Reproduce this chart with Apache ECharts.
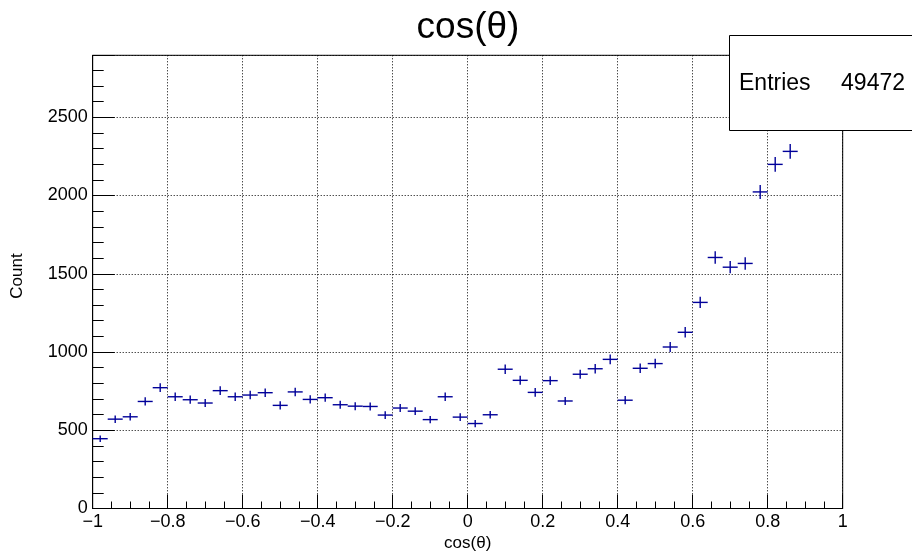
<!DOCTYPE html>
<html>
<head>
<meta charset="utf-8">
<script src="https://cdn.jsdelivr.net/npm/echarts@6/dist/echarts.min.js"></script>
<style>html,body{margin:0;padding:0;background:#fff;}#c{width:912px;height:556px;}</style>
</head>
<body>
<div id="c"></div>
<script>
// bin centres of cos(theta) histogram (50 bins, width 0.04)
var binCenters = [-0.98,-0.94,-0.90,-0.86,-0.82,-0.78,-0.74,-0.70,-0.66,-0.62,-0.58,-0.54,-0.50,-0.46,-0.42,-0.38,-0.34,-0.30,-0.26,-0.22,-0.18,-0.14,-0.10,-0.06,-0.02,0.02,0.06,0.10,0.14,0.18,0.22,0.26,0.30,0.34,0.38,0.42,0.46,0.50,0.54,0.58,0.62,0.66,0.70,0.74,0.78,0.82,0.86,0.90,0.94,0.98];
var counts = [446,571,586,684,772,714,695,674,753,714,725,740,659,745,697,708,663,654,652,597,642,622,568,714,584,543,599,890,819,742,817,687,858,893,953,692,896,926,1032,1126,1317,1604,1542,1566,2023,2199,2282,2487,2640,2760];
var binWidth = 0.04;
var xTicks = [-1,-0.8,-0.6,-0.4,-0.2,0,0.2,0.4,0.6,0.8,1];
var yTicks = [0,500,1000,1500,2000,2500];
var titleText = 'cos(\u03b8)';
var xTitle = 'cos(\u03b8)';
var yTitle = 'Count';
var entries = 49472;

var FONT = '"Liberation Sans", Arial, Helvetica, sans-serif';
var data = binCenters.map(function(x,i){return [x, counts[i], Math.sqrt(counts[i])];});

function fmt(v){
  var s = (Math.round(v*10)/10).toString();
  return s.replace('-', '\u2212');
}

var chart = echarts.init(document.getElementById('c'));
chart.setOption({
  animation:false,
  backgroundColor:'#fff',
  grid:{left:92.7, right:69.3, top:55.3, bottom:47.5, show:true, borderColor:'#000', borderWidth:1, backgroundColor:'transparent'},
  xAxis:{
    type:'value', min:-1, max:1, interval:0.2,
    axisLine:{show:true, onZero:false, lineStyle:{color:'#000', width:1}},
    axisTick:{show:true, inside:true, length:14, lineStyle:{color:'#000'}},
    minorTick:{show:true, splitNumber:4, length:7, lineStyle:{color:'#000'}},
    splitLine:{show:true, lineStyle:{color:'#000', type:[1,2], width:1}},
    axisLabel:{color:'#000', fontSize:18, fontFamily:FONT, margin:5, formatter:function(v){return fmt(v);}}
  },
  yAxis:{
    type:'value', min:0, max:2896, interval:500,
    axisLine:{show:true, onZero:false, lineStyle:{color:'#000', width:1}},
    axisTick:{show:true, inside:true, length:22, lineStyle:{color:'#000'}},
    minorTick:{show:true, splitNumber:5, length:11, lineStyle:{color:'#000'}},
    splitLine:{show:true, lineStyle:{color:'#000', type:[1,2], width:1}},
    axisLabel:{color:'#000', fontSize:18, fontFamily:FONT, margin:5, showMaxLabel:false,
      formatter:function(v){return yTicks.indexOf(v)>=0 ? String(v) : '';}}
  },
  series:[{
    type:'custom',
    coordinateSystem:'cartesian2d',
    data:data,
    encode:{x:0,y:1},
    z:2,
    renderItem:function(params, api){
      var x = api.value(0), y = api.value(1), e = api.value(2);
      var pL = api.coord([x-binWidth/2, y]);
      var pR = api.coord([x+binWidth/2, y]);
      var pT = api.coord([x, y+e]);
      var pB = api.coord([x, y-e]);
      var st = {stroke:'#000099', lineWidth:1.4};
      return {type:'group', children:[
        {type:'line', shape:{x1:pL[0], y1:pL[1], x2:pR[0], y2:pR[1]}, style:st},
        {type:'line', shape:{x1:pT[0], y1:pT[1], x2:pB[0], y2:pB[1]}, style:st}
      ]};
    }
  }],
  graphic:[
    {type:'text', z:100, x:468, y:9, style:{text:titleText, fontSize:37, fontFamily:FONT, fill:'#000', textAlign:'center'}},
    {type:'text', z:100, x:467.7, y:535, style:{text:xTitle, fontSize:17, fontFamily:FONT, fill:'#000', textAlign:'center'}},
    {type:'text', z:100, x:9, y:276, rotation:Math.PI/2, style:{text:yTitle, fontSize:17, fontFamily:FONT, fill:'#000', textAlign:'center', textVerticalAlign:'top'}},
    {type:'rect', z:100, shape:{x:729.5, y:35.5, width:200, height:95}, style:{fill:'#fff', stroke:'#000', lineWidth:1}},
    {type:'text', z:101, x:739, y:84, style:{text:'Entries', fontSize:23, fontFamily:FONT, fill:'#000', textVerticalAlign:'middle'}},
    {type:'text', z:101, x:905, y:84, style:{text:String(entries), fontSize:23, fontFamily:FONT, fill:'#000', textAlign:'right', textVerticalAlign:'middle'}}
  ]
});
</script>
</body>
</html>
